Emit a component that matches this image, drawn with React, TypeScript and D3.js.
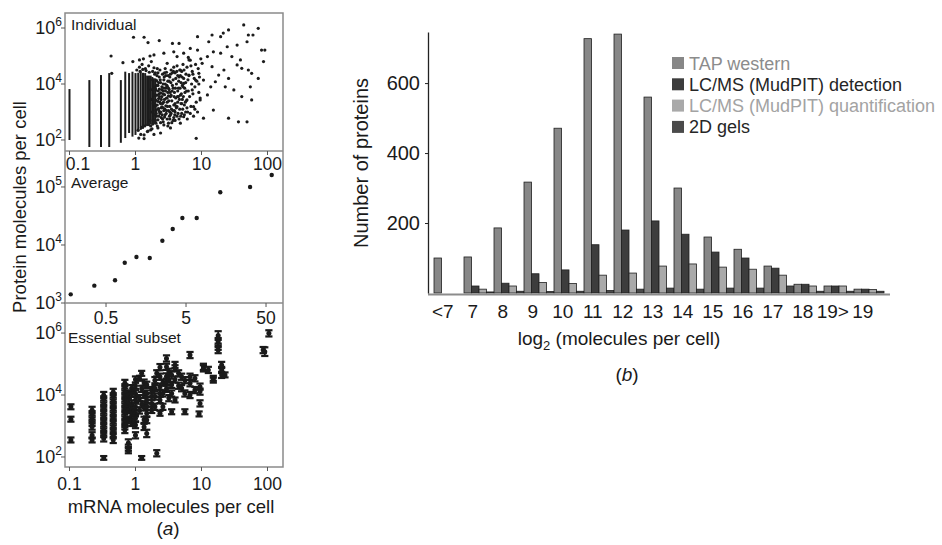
import React, { useEffect, useRef } from "react";
import * as d3 from "d3";

const FONT = "'Liberation Sans', Arial, Helvetica, sans-serif";

// ---------- panel (b): histogram of protein abundance ----------
const bins = ["<7", "7", "8", "9", "10", "11", "12", "13", "14", "15", "16", "17", "18", "19>", "19"];
const tapWestern = [100, 103, 186, 317, 471, 727, 740, 560, 300, 160, 125, 77, 25, 20, 11];
const lcmsDetection = [0, 20, 28, 55, 66, 138, 180, 206, 168, 117, 100, 71, 25, 20, 11];
const lcmsQuant = [0, 11, 20, 30, 27, 51, 57, 77, 83, 74, 68, 51, 20, 20, 10];
const gels2d = [0, 3, 5, 4, 5, 7, 11, 14, 11, 14, 14, 20, 5, 5, 5];
const seriesNames = ["TAP western", "LC/MS (MudPIT) detection", "LC/MS (MudPIT) quantification", "2D gels"];
const countTicks = [200, 400, 600];

// ---------- panel (a), top: individual genes ----------
// mRNA levels that form vertical columns, with log10 protein extent of each column
const stripMrna = [0.1, 0.2, 0.3, 0.4, 0.6, 0.7, 0.8, 0.9, 1.0, 1.1, 1.2, 1.3, 1.4, 1.5, 1.6, 1.7, 1.8, 1.9, 2.0];
const stripLogLow = [2.0, 1.75, 1.75, 1.75, 1.9, 2.07, 2.25, 2.12, 2.18, 2.3, 2.36, 2.4, 2.48, 2.5, 2.5, 2.55, 2.6, 2.6, 2.6];
const stripLogHigh = [3.82, 4.14, 4.32, 4.39, 4.14, 4.44, 4.39, 4.44, 4.39, 4.4, 4.44, 4.4, 4.39, 4.3, 4.3, 4.3, 4.25, 4.2, 4.2];

// remaining genes, as [log10 mRNA, log10 protein]
const cloudLog: [number, number][] = [
  [1.64, 6.11], [1.86, 5.99], [1.41, 5.93], [1.16, 5.75], [1.71, 5.75], [0.94, 5.69], [1.33, 5.82],
  [1.11, 5.51], [1.29, 5.69], [1.54, 5.39], [1.78, 5.75], [1.69, 5.51], [1.91, 5.21], [1.96, 5.21],
  [1.94, 4.8], [1.86, 4.2], [1.76, 4.38], [1.74, 3.9], [1.61, 3.55], [1.76, 3.43], [1.69, 2.65],
  [1.56, 2.65], [1.41, 2.78], [0.92, 2.06], [1.03, 2.78], [1.18, 3.07], [1.49, 3.79], [1.36, 3.9],
  [1.41, 4.2], [1.54, 4.68], [1.61, 4.56], [1.71, 4.5], [1.59, 4.86], [1.46, 4.98], [1.34, 4.5],
  [1.26, 4.32], [1.21, 4.08], [1.16, 4.62], [1.29, 5.1], [1.39, 5.33], [1.18, 5.15], [1.09, 4.98],
  [1.01, 4.74], [0.96, 4.38], [1.03, 4.14], [1.14, 3.9], [1.09, 3.61], [0.98, 3.43], [0.88, 3.19],
  [0.83, 2.95], [0.73, 2.83], [0.78, 3.43], [0.68, 2.6], [0.63, 3.19], [0.86, 3.79], [0.91, 4.14],
  [0.81, 4.32], [0.73, 4.02], [0.68, 4.5], [0.81, 4.86], [0.73, 5.1], [0.63, 4.98], [0.66, 5.45],
  [0.83, 5.27], [0.94, 5.21], [0.56, 5.45], [0.58, 5.15],
  [-0.03, 5.67], [0.13, 5.67], [0.19, 5.48], [0.36, 5.55], [-0.37, 5.0], [-0.19, 4.76], [-0.36, 4.38],
  [-0.04, 4.8], [0.06, 4.86], [0.28, 5.04], [0.43, 5.1], [0.48, 4.74],
  [0.13, 2.18], [0.23, 2.36], [0.34, 2.43], [0.43, 2.54], [0.53, 2.43], [0.26, 2.57], [0.19, 2.32],
  [0.38, 2.25], [0.05, 2.07],
  [0.31, 3.05], [0.31, 3.42], [0.31, 3.78], [0.32, 2.85], [0.32, 4.12], [0.33, 3.25], [0.33, 3.6],
  [0.34, 3.95], [0.34, 2.72], [0.35, 3.12], [0.35, 3.48], [0.36, 4.25], [0.36, 3.82], [0.37, 2.95],
  [0.37, 3.35], [0.38, 3.68], [0.38, 4.05], [0.39, 3.15], [0.39, 2.8], [0.4, 3.55], [0.4, 3.9],
  [0.41, 4.35], [0.41, 3.3], [0.42, 2.65], [0.42, 3.75], [0.43, 3.05], [0.43, 4.15], [0.44, 3.45],
  [0.44, 3.62], [0.45, 2.9], [0.45, 4.0], [0.46, 3.22], [0.46, 3.85], [0.47, 3.5], [0.47, 4.42],
  [0.48, 2.75], [0.48, 3.35], [0.49, 3.7], [0.49, 4.1], [0.5, 3.05], [0.5, 3.58], [0.3, 4.4],
  [0.32, 3.95], [0.34, 3.38], [0.36, 3.02], [0.38, 2.62], [0.4, 3.18], [0.42, 4.0], [0.44, 2.82],
  [0.46, 4.3], [0.48, 3.92], [0.5, 2.6], [0.33, 4.55], [0.37, 4.5], [0.45, 4.55],
  [0.51, 3.8], [0.52, 4.25], [0.52, 3.2], [0.53, 2.9], [0.54, 3.6], [0.54, 4.5], [0.55, 3.4],
  [0.56, 3.95], [0.57, 2.7], [0.57, 4.15], [0.58, 3.25], [0.59, 3.7], [0.6, 4.4], [0.6, 3.0],
  [0.61, 3.5], [0.62, 4.0], [0.63, 2.85], [0.63, 4.65], [0.64, 3.35], [0.65, 3.85], [0.66, 4.25],
  [0.67, 3.1], [0.68, 3.6], [0.69, 4.05], [0.7, 2.95], [0.7, 4.45], [0.71, 3.45], [0.72, 3.9],
  [0.73, 4.2], [0.74, 3.25], [0.75, 3.7], [0.55, 2.62], [0.58, 4.6], [0.62, 3.15], [0.66, 2.75],
  [0.69, 3.3], [0.72, 4.7], [0.74, 2.9], [0.53, 3.55], [0.56, 4.4], [0.59, 3.05], [0.61, 4.2],
  [0.64, 3.75], [0.67, 4.5], [0.71, 3.95], [0.52, 2.75], [0.57, 3.85], [0.6, 2.7], [0.65, 3.55],
  [0.68, 4.3],
  [0.76, 4.05], [0.77, 3.4], [0.78, 4.6], [0.79, 3.0], [0.8, 3.75], [0.81, 4.3], [0.82, 3.55],
  [0.83, 4.85], [0.84, 3.2], [0.85, 4.0], [0.86, 4.45], [0.87, 3.65], [0.88, 2.85], [0.89, 4.2],
  [0.9, 3.9], [0.91, 4.7], [0.92, 3.35], [0.93, 4.1], [0.94, 3.0], [0.95, 4.55], [0.96, 3.7],
  [0.97, 4.25], [0.98, 3.5], [0.99, 4.9], [0.78, 3.15], [0.84, 4.65], [0.9, 3.1], [0.96, 4.0],
  [0.8, 4.95], [0.87, 4.35],
  [0.06, 4.6], [0.1, 4.7], [0.15, 4.55], [0.2, 4.65], [0.24, 4.8], [0.28, 4.58], [0.12, 4.9],
  [0.22, 5.0], [0.08, 2.2], [0.13, 2.05], [0.18, 2.3], [0.25, 2.4], [0.28, 2.2],
  [0.02, 4.5], [0.04, 2.35], [0.07, 4.45], [0.09, 2.45], [0.11, 4.52], [0.14, 2.5], [0.16, 4.48],
  [0.19, 2.55], [0.21, 4.42], [0.23, 2.5], [0.26, 4.45], [0.27, 2.6], [0.29, 4.35], [0.3, 2.7],
  [0.25, 3.0], [0.27, 3.3], [0.28, 3.6], [0.29, 3.9], [0.26, 4.15], [0.22, 2.7], [0.24, 3.45],
  [0.3, 3.2], [0.23, 3.8], [0.28, 2.9],
  [0.305, 3.6], [0.315, 2.95], [0.325, 4.3], [0.335, 3.1], [0.345, 3.75], [0.355, 2.85], [0.365, 3.55],
  [0.375, 4.15], [0.385, 3.0], [0.395, 3.8], [0.405, 2.9], [0.415, 3.65], [0.425, 3.35], [0.435, 4.25],
  [0.445, 3.1], [0.455, 3.75], [0.465, 2.95], [0.475, 3.95], [0.485, 3.2], [0.495, 4.3], [0.505, 3.4],
  [0.515, 2.85], [0.525, 3.7], [0.535, 4.05], [0.545, 3.1], [0.31, 2.6], [0.35, 4.05], [0.39, 3.45],
  [0.43, 3.85], [0.47, 3.05], [0.51, 4.1], [0.54, 2.95], [0.33, 2.5], [0.41, 2.75], [0.49, 2.5],
  [0.36, 3.65], [0.42, 3.15], [0.48, 3.5], [0.52, 3.0], [0.3, 3.85], [0.34, 4.4], [0.38, 3.3],
  [0.44, 4.4], [0.5, 3.85], [0.53, 4.35],
  [0.555, 3.75], [0.565, 3.05], [0.575, 4.45], [0.585, 3.55], [0.595, 2.9], [0.605, 3.85], [0.615, 3.2],
  [0.625, 4.45], [0.635, 3.55], [0.645, 2.95], [0.655, 4.1], [0.665, 3.45], [0.675, 3.85], [0.685, 2.85],
  [0.695, 3.65], [0.705, 4.25], [0.715, 3.1], [0.725, 3.55], [0.735, 4.5], [0.745, 3.85], [0.755, 3.35],
  [0.765, 4.35], [0.775, 3.75], [0.785, 2.75], [0.795, 4.15], [0.6, 3.3], [0.64, 4.3], [0.7, 3.3],
  [0.76, 3.0], [0.58, 2.8],
];

// ---------- panel (a), middle: binned averages ----------
const avgMrna = [0.181, 0.357, 0.648, 0.857, 1.2, 1.76, 2.53, 3.41, 4.5, 6.8, 13.4, 31.6, 58.9];
const avgProtein = [1410, 1990, 2460, 4950, 6210, 5970, 11860, 18880, 29230, 29230, 81100, 100000, 161000];

// ---------- panel (a), bottom: essential subset, [mRNA, log10 protein, log10 half-range] ----------
const essential: [number, number, number][] = [
  [0.105, 3.62, 0.08], [0.105, 3.22, 0.08], [0.105, 2.55, 0.08],
  [0.22, 3.52, 0.1], [0.22, 3.38, 0.1], [0.22, 3.24, 0.1], [0.22, 3.1, 0.1], [0.22, 2.98, 0.1],
  [0.22, 2.7, 0.1], [0.22, 2.55, 0.08],
  [0.33, 4.0, 0.1], [0.33, 3.86, 0.1], [0.33, 3.72, 0.1], [0.33, 3.58, 0.1], [0.33, 3.44, 0.1],
  [0.33, 3.3, 0.1], [0.33, 3.16, 0.1], [0.33, 3.02, 0.1], [0.33, 2.88, 0.1], [0.33, 2.74, 0.1],
  [0.33, 2.6, 0.1], [0.33, 1.97, 0.06],
  [0.46, 4.1, 0.1], [0.46, 3.96, 0.1], [0.46, 3.82, 0.1], [0.46, 3.68, 0.1], [0.46, 3.54, 0.1],
  [0.46, 3.4, 0.1], [0.46, 3.26, 0.1], [0.46, 3.12, 0.1], [0.46, 2.98, 0.1], [0.46, 2.84, 0.1],
  [0.46, 2.7, 0.1], [0.46, 2.55, 0.1],
  [0.69, 4.39, 0.1], [0.69, 4.25, 0.1], [0.69, 4.11, 0.1], [0.69, 3.97, 0.1], [0.69, 3.83, 0.1],
  [0.69, 3.69, 0.1], [0.69, 3.55, 0.1], [0.69, 3.41, 0.1], [0.69, 3.27, 0.1], [0.69, 3.13, 0.1],
  [0.69, 2.99, 0.1], [0.69, 2.87, 0.1],
  [0.78, 4.0, 0.1], [0.78, 3.75, 0.1], [0.78, 3.52, 0.1], [0.78, 3.19, 0.1], [0.78, 2.45, 0.12],
  [0.78, 2.3, 0.1], [0.78, 2.2, 0.08],
  [0.875, 4.22, 0.1], [0.875, 4.05, 0.1], [0.875, 3.73, 0.1], [0.875, 3.55, 0.1], [0.875, 3.35, 0.1],
  [0.875, 3.1, 0.1],
  [1.0, 4.5, 0.1], [1.0, 4.3, 0.1], [1.0, 4.05, 0.1], [1.0, 3.84, 0.1], [1.0, 3.62, 0.1],
  [1.0, 3.41, 0.1], [1.0, 3.25, 0.1], [1.0, 3.03, 0.1], [1.0, 2.7, 0.1],
  [1.15, 4.54, 0.08], [1.15, 3.9, 0.1], [1.15, 3.5, 0.1],
  [1.24, 4.7, 0.08], [1.24, 4.2, 0.1], [1.24, 3.7, 0.1], [1.24, 1.97, 0.06],
  [1.35, 4.4, 0.1], [1.35, 4.0, 0.1], [1.35, 3.6, 0.1], [1.35, 3.2, 0.1], [1.35, 2.97, 0.1],
  [1.48, 4.33, 0.1], [1.48, 4.05, 0.1], [1.48, 3.84, 0.1], [1.48, 3.62, 0.1], [1.48, 3.41, 0.1],
  [1.48, 3.19, 0.1], [1.48, 2.76, 0.12],
  [1.76, 4.16, 0.1], [1.76, 3.95, 0.1], [1.76, 3.73, 0.1], [1.76, 3.52, 0.1],
  [1.97, 4.48, 0.1], [1.97, 4.22, 0.1], [1.97, 3.95, 0.1], [1.97, 3.62, 0.1],
  [2.1, 2.12, 0.1], [2.1, 4.7, 0.1],
  [2.35, 4.9, 0.1], [2.35, 4.59, 0.1], [2.35, 4.27, 0.1], [2.35, 4.05, 0.1], [2.35, 3.84, 0.1],
  [2.35, 3.41, 0.08],
  [2.6, 4.4, 0.1], [2.6, 4.05, 0.1], [2.6, 3.62, 0.1],
  [2.95, 5.18, 0.1], [2.95, 4.91, 0.1], [2.95, 4.6, 0.1], [2.95, 4.43, 0.1], [2.95, 4.2, 0.1],
  [3.2, 4.75, 0.1], [3.2, 4.5, 0.1], [3.2, 3.9, 0.1],
  [3.53, 4.65, 0.12], [3.53, 4.33, 0.1], [3.53, 4.05, 0.1], [3.53, 3.46, 0.08],
  [3.97, 4.97, 0.1], [3.97, 4.86, 0.1], [3.97, 4.5, 0.1], [3.97, 3.84, 0.08],
  [4.5, 4.7, 0.1], [4.5, 4.3, 0.1],
  [5.0, 4.59, 0.1], [5.0, 4.22, 0.1],
  [5.6, 4.48, 0.1], [5.6, 4.05, 0.1], [5.6, 3.46, 0.08],
  [6.7, 5.29, 0.1], [6.7, 4.59, 0.1], [6.7, 4.38, 0.1], [6.7, 4.0, 0.1],
  [7.95, 4.54, 0.1], [7.95, 4.16, 0.1],
  [9.2, 3.39, 0.08], [9.5, 4.27, 0.1], [9.5, 4.11, 0.1], [9.5, 3.73, 0.1],
  [10.7, 4.91, 0.1], [10.7, 4.86, 0.1], [12.7, 4.81, 0.1],
  [15.1, 4.54, 0.08], [15.1, 4.48, 0.08],
  [17.9, 5.92, 0.14], [17.9, 5.72, 0.12], [17.9, 5.56, 0.1], [17.9, 5.45, 0.1],
  [20.2, 4.97, 0.1], [20.2, 4.81, 0.1], [20.2, 4.65, 0.1], [22.7, 4.65, 0.08],
  [86, 5.45, 0.1], [91, 5.4, 0.14], [105, 5.99, 0.1],
];

const mrnaTicks = [0.1, 1, 10, 100];
const avgMrnaTicks = [0.5, 5, 50];

const seriesFill = ["#878787", "#3d3d3d", "#a9a9a9", "#4a4a4a"];
const seriesText = ["#8c8c8c", "#262626", "#a3a3a3", "#262626"];

function powLabel(g: any, x: number, y: number, exp: number) {
  const t = g
    .append("text")
    .attr("x", x)
    .attr("y", y)
    .attr("text-anchor", "end")
    .attr("font-size", 18)
    .attr("fill", "#1a1a1a");
  t.append("tspan").text("10");
  t.append("tspan").attr("dy", -8).attr("font-size", 12).text(exp);
}

export default function App() {
  const ref = useRef<SVGSVGElement>(null);

  useEffect(() => {
    drawChart();
  }, []);

  function drawChart() {
    const svg = d3.select(ref.current);
    svg.selectAll("*").remove();
    svg.attr("font-family", FONT);
    drawPanelA(svg);
    drawPanelB(svg);
  }

  function drawPanelA(svg: any) {
    const left = 65,
      right = 283;
    const g = svg.append("g");

    // shared x scale for top and bottom (log mRNA)
    const xInd = d3.scaleLog().domain([0.0855, 171.8]).range([left, right]);
    const yTop = d3.scaleLog().domain([Math.pow(10, 1.607), Math.pow(10, 6.536)]).range([151, 13]);
    const xAvg = d3.scaleLog().domain([0.1535, 81.5]).range([left, right]);
    const yAvg = d3.scaleLog().domain([1000, Math.pow(10, 5.62)]).range([303, 151]);
    const yBot = d3.scaleLog().domain([Math.pow(10, 1.677), Math.pow(10, 6.97)]).range([467, 303]);

    // top panel marks
    g.append("g")
      .selectAll("line")
      .data(stripMrna)
      .join("line")
      .attr("x1", (d: number) => xInd(d))
      .attr("x2", (d: number) => xInd(d))
      .attr("y1", (_: number, i: number) => yTop(Math.pow(10, stripLogLow[i])))
      .attr("y2", (_: number, i: number) => yTop(Math.pow(10, stripLogHigh[i])))
      .attr("stroke", "#1c1c1c")
      .attr("stroke-width", 2);

    g.append("g")
      .selectAll("circle")
      .data(cloudLog)
      .join("circle")
      .attr("cx", (d: [number, number]) => xInd(Math.pow(10, d[0])))
      .attr("cy", (d: [number, number]) => yTop(Math.pow(10, d[1])))
      .attr("r", 1.6)
      .attr("fill", "#1c1c1c");

    // middle panel marks
    g.append("g")
      .selectAll("circle")
      .data(avgMrna)
      .join("circle")
      .attr("cx", (d: number) => xAvg(d))
      .attr("cy", (_: number, i: number) => yAvg(avgProtein[i]))
      .attr("r", 2.2)
      .attr("fill", "#1a1a1a");

    // bottom panel: points with error bars
    const ess = g.append("g").selectAll("g").data(essential).join("g");
    ess
      .append("line")
      .attr("x1", (d: number[]) => xInd(d[0]))
      .attr("x2", (d: number[]) => xInd(d[0]))
      .attr("y1", (d: number[]) => yBot(Math.pow(10, d[1] - d[2])))
      .attr("y2", (d: number[]) => yBot(Math.pow(10, d[1] + d[2])))
      .attr("stroke", "#1a1a1a")
      .attr("stroke-width", 1.8);
    [-1, 1].forEach((s) => {
      ess
        .append("line")
        .attr("x1", (d: number[]) => xInd(d[0]) - 3.6)
        .attr("x2", (d: number[]) => xInd(d[0]) + 3.6)
        .attr("y1", (d: number[]) => yBot(Math.pow(10, d[1] + s * d[2])))
        .attr("y2", (d: number[]) => yBot(Math.pow(10, d[1] + s * d[2])))
        .attr("stroke", "#1a1a1a")
        .attr("stroke-width", 2.2);
    });
    ess
      .append("circle")
      .attr("cx", (d: number[]) => xInd(d[0]))
      .attr("cy", (d: number[]) => yBot(Math.pow(10, d[1])))
      .attr("r", 2.5)
      .attr("fill", "#1a1a1a");

    // frame
    const frame = g.append("g").attr("stroke", "#8a8a8a").attr("stroke-width", 1.5).attr("fill", "none");
    frame.append("rect").attr("x", left).attr("y", 13).attr("width", right - left).attr("height", 454);
    frame.append("line").attr("x1", left).attr("x2", right).attr("y1", 151).attr("y2", 151);
    frame.append("line").attr("x1", left).attr("x2", right).attr("y1", 303).attr("y2", 303);

    // y ticks
    const yTickSets: [any, number[]][] = [
      [yTop, [2, 4, 6]],
      [yAvg, [3, 4, 5]],
      [yBot, [2, 4, 6]],
    ];
    yTickSets.forEach(([sc, exps]) => {
      exps.forEach((e) => {
        const yy = sc(Math.pow(10, e));
        g.append("line").attr("x1", left - 4).attr("x2", left).attr("y1", yy).attr("y2", yy).attr("stroke", "#555");
        powLabel(g, 62, yy + 6, e);
      });
    });

    // x ticks
    const xTickSets: [any, number[], number, number, number][] = [
      [xInd, mrnaTicks, 151, 170, 78],
      [xAvg, avgMrnaTicks, 303, 324, 0],
      [xInd, mrnaTicks, 467, 490, 0],
    ];
    xTickSets.forEach(([sc, vals, y0, yl, minX]) => {
      vals.forEach((v) => {
        const xx = sc(v);
        g.append("line").attr("x1", xx).attr("x2", xx).attr("y1", y0).attr("y2", y0 + 4).attr("stroke", "#555");
        g.append("text")
          .attr("x", Math.max(xx, minX))
          .attr("y", yl)
          .attr("text-anchor", "middle")
          .attr("font-size", 17.5)
          .attr("fill", "#1a1a1a")
          .text(String(v));
      });
    });

    // panel titles
    const titles: [string, number, number][] = [
      ["Individual", 71, 30],
      ["Average", 71, 188],
      ["Essential subset", 68, 343],
    ];
    titles.forEach(([t, x, y]) => {
      g.append("text").attr("x", x).attr("y", y).attr("font-size", 15.5).attr("fill", "#1a1a1a").text(t);
    });

    // axis titles
    g.append("text")
      .attr("transform", "translate(26,207) rotate(-90)")
      .attr("text-anchor", "middle")
      .attr("font-size", 18.5)
      .attr("fill", "#1a1a1a")
      .text("Protein molecules per cell");
    g.append("text")
      .attr("x", 171)
      .attr("y", 513)
      .attr("text-anchor", "middle")
      .attr("font-size", 18.5)
      .attr("fill", "#1a1a1a")
      .text("mRNA molecules per cell");
    const pa = g.append("text").attr("x", 168).attr("y", 535).attr("text-anchor", "middle").attr("font-size", 19).attr("fill", "#1a1a1a");
    pa.append("tspan").text("(");
    pa.append("tspan").attr("font-style", "italic").text("a");
    pa.append("tspan").text(")");
  }

  function drawPanelB(svg: any) {
    const g = svg.append("g");
    const values = [tapWestern, lcmsDetection, lcmsQuant, gels2d];

    const x0 = d3.scaleBand().domain(bins).range([434, 884]).padding(0);
    const x1 = d3.scaleBand().domain(seriesNames).range([0, x0.bandwidth()]).padding(0);
    const y = d3.scaleLinear().domain([0, 746]).range([293, 32]);

    const rows = bins.flatMap((b, i) =>
      seriesNames.map((s, k) => ({ bin: b, series: s, k, value: values[k][i] }))
    );

    g.append("g")
      .selectAll("rect")
      .data(rows.filter((d) => d.value > 0))
      .join("rect")
      .attr("x", (d: any) => (x0(d.bin) as number) + (x1(d.series) as number))
      .attr("y", (d: any) => y(d.value))
      .attr("width", x1.bandwidth())
      .attr("height", (d: any) => y(0) - y(d.value))
      .attr("fill", (d: any) => seriesFill[d.k])
      .attr("stroke", "#202020")
      .attr("stroke-width", 0.8);

    // x axis line
    g.append("line").attr("x1", 428).attr("x2", 890).attr("y1", 294.5).attr("y2", 294.5).attr("stroke", "#8c8c8c").attr("stroke-width", 2);

    // y axis
    const yAxis = g
      .append("g")
      .attr("transform", "translate(428,0)")
      .call(d3.axisLeft(y).tickValues(countTicks).tickSize(3).tickSizeOuter(0));
    yAxis.select(".domain").attr("stroke", "#222").attr("stroke-width", 1.3);
    yAxis.selectAll(".tick line").attr("stroke", "#222");
    yAxis.selectAll(".tick text").attr("font-size", 20).attr("font-family", FONT).attr("fill", "#1a1a1a").attr("x", -8);

    // category labels
    g.append("g")
      .selectAll("text")
      .data(bins)
      .join("text")
      .attr("x", (d: string) => (x0(d) as number) + x1.bandwidth() / 2 + 5)
      .attr("y", 318)
      .attr("text-anchor", "middle")
      .attr("font-size", 19)
      .attr("fill", "#1a1a1a")
      .text((d: string) => d);

    // axis titles
    g.append("text")
      .attr("transform", "translate(368,163) rotate(-90)")
      .attr("text-anchor", "middle")
      .attr("font-size", 20)
      .attr("fill", "#1a1a1a")
      .text("Number of proteins");
    const xt = g.append("text").attr("x", 619).attr("y", 345).attr("text-anchor", "middle").attr("font-size", 19).attr("fill", "#1a1a1a");
    xt.append("tspan").text("log");
    xt.append("tspan").attr("dy", 5).attr("font-size", 13).text("2");
    xt.append("tspan").attr("dy", -5).text(" (molecules per cell)");
    const pb = g.append("text").attr("x", 627).attr("y", 381).attr("text-anchor", "middle").attr("font-size", 19).attr("fill", "#1a1a1a");
    pb.append("tspan").text("(");
    pb.append("tspan").attr("font-style", "italic").text("b");
    pb.append("tspan").text(")");

    // legend
    const legend = g
      .append("g")
      .selectAll("g")
      .data(seriesNames)
      .join("g")
      .attr("transform", (_: string, i: number) => `translate(672,${63 + i * 21.3})`);
    legend
      .append("rect")
      .attr("x", 0)
      .attr("y", -6)
      .attr("width", 12)
      .attr("height", 12)
      .attr("fill", (_: string, i: number) => seriesFill[i]);
    legend
      .append("text")
      .attr("x", 17)
      .attr("y", 6.5)
      .attr("font-size", 18)
      .attr("fill", (_: string, i: number) => seriesText[i])
      .text((d: string) => d);
  }

  return (
    <svg
      ref={ref}
      width={942}
      height={545}
      style={{ position: "absolute", left: 0, top: 0, background: "#fff" }}
    />
  );
}
